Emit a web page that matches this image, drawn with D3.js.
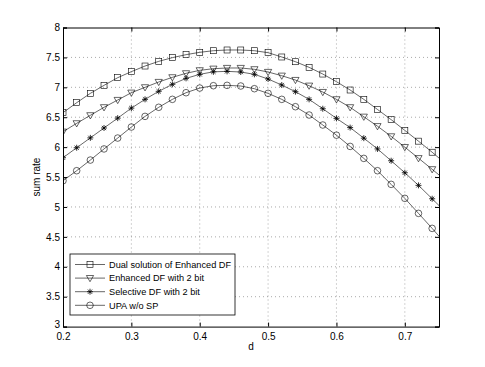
<!DOCTYPE html>
<html>
<head>
<meta charset="utf-8">
<script src="https://cdn.jsdelivr.net/npm/d3@7"></script>
<style>
	body { margin: 0; background: #fff; }
	text { font-family: "Liberation Sans", Arial, Helvetica, sans-serif; font-size: 10px; fill: #000; }
</style>
</head>
<body>
<svg id="chart"></svg>
<script>
// d values (last point lies past the axis and gets clipped)
let dValues = [0.20, 0.22, 0.24, 0.26, 0.28, 0.30, 0.32, 0.34, 0.36, 0.38,
	0.40, 0.42, 0.44, 0.46, 0.48, 0.50, 0.52, 0.54, 0.56, 0.58,
	0.60, 0.62, 0.64, 0.66, 0.68, 0.70, 0.72, 0.74, 0.76];

let dualRate = [6.576, 6.743, 6.899, 7.033, 7.161, 7.262, 7.356, 7.434, 7.496, 7.546,
	7.585, 7.612, 7.624, 7.624, 7.612, 7.579, 7.507, 7.428, 7.334, 7.222,
	7.094, 6.955, 6.799, 6.63, 6.46, 6.28, 6.10, 5.915, 5.72];

let enhancedRate = [6.258, 6.398, 6.532, 6.666, 6.788, 6.910, 7.0, 7.089, 7.167, 7.234,
	7.284, 7.311, 7.323, 7.323, 7.301, 7.256, 7.194, 7.122, 7.027, 6.921,
	6.799, 6.666, 6.508, 6.35, 6.18, 6.0, 5.815, 5.63, 5.44];

let selectiveRate = [5.823, 5.99, 6.155, 6.32, 6.485, 6.652, 6.799, 6.933, 7.05, 7.15,
	7.217, 7.259, 7.267, 7.256, 7.217, 7.139, 7.038, 6.927, 6.799, 6.642,
	6.481, 6.327, 6.15, 5.97, 5.773, 5.572, 5.361, 5.137, 4.91];

let upaRate = [5.438, 5.606, 5.784, 5.97, 6.152, 6.336, 6.514, 6.666, 6.799, 6.91,
	6.988, 7.027, 7.033, 7.022, 6.977, 6.899, 6.799, 6.676, 6.537, 6.370,
	6.2, 6.012, 5.812, 5.606, 5.378, 5.144, 4.893, 4.642, 4.38];

let seriesNames = ['Dual solution of Enhanced DF', 'Enhanced DF with 2 bit', 'Selective DF with 2 bit', 'UPA w/o SP'];
let seriesMarkers = ['square', 'triangle', 'star', 'circle'];

let xTicks = [0.2, 0.3, 0.4, 0.5, 0.6, 0.7];
let yTicks = [3, 3.5, 4, 4.5, 5, 5.5, 6, 6.5, 7, 7.5, 8];

let width = 485, height = 367;
let plotLeft = 63, plotRight = 439, plotTop = 27.5, plotBottom = 326.6;

let svg = d3.select('#chart')
	.attr('width', width)
	.attr('height', height);

let xScale = d3.scaleLinear().domain([0.2, 0.75]).range([plotLeft, plotRight]);
let yScale = d3.scaleLinear().domain([3, 8]).range([plotBottom, plotTop]);

// dotted grid
svg.append('g').selectAll('line')
	.data(xTicks.slice(1))
	.enter().append('line')
	.attr('x1', d => xScale(d)).attr('x2', d => xScale(d))
	.attr('y1', plotTop).attr('y2', plotBottom)
	.attr('stroke', '#555').attr('stroke-width', 0.5)
	.attr('stroke-dasharray', '1,3');

svg.append('g').selectAll('line')
	.data(yTicks.slice(1, -1))
	.enter().append('line')
	.attr('x1', plotLeft).attr('x2', plotRight)
	.attr('y1', d => yScale(d)).attr('y2', d => yScale(d))
	.attr('stroke', '#555').attr('stroke-width', 0.5)
	.attr('stroke-dasharray', '1,3');

// axes, ticks pointing inwards on all four sides
let xAxis = d3.axisBottom(xScale).tickValues(xTicks).tickSize(-4).tickPadding(6).tickFormat(d3.format('.1f'));
let xAxisTop = d3.axisTop(xScale).tickValues(xTicks).tickSize(-4).tickFormat('');
let yAxis = d3.axisLeft(yScale).tickValues(yTicks).tickSize(-4).tickPadding(3).tickFormat(d => d);
let yAxisRight = d3.axisRight(yScale).tickValues(yTicks).tickSize(-4).tickFormat('');

svg.append('g').attr('transform', `translate(0,${plotBottom})`).call(xAxis);
svg.append('g').attr('transform', `translate(0,${plotTop})`).call(xAxisTop);
let yAxisGroup = svg.append('g').attr('transform', `translate(${plotLeft},0)`).call(yAxis);
svg.append('g').attr('transform', `translate(${plotRight},0)`).call(yAxisRight);

// the lowest y label sits a bit higher, clear of the 0.2 label
yAxisGroup.selectAll('.tick text').filter(d => d == 3).attr('dy', '0.1em');

svg.selectAll('.domain').attr('stroke', '#000').attr('stroke-width', 1);
svg.selectAll('.tick line').attr('stroke', '#000');
svg.selectAll('.tick text').style('font-size', '10px');

// labels
svg.append('text')
	.attr('x', (plotLeft + plotRight) / 2)
	.attr('y', 350)
	.style('text-anchor', 'middle')
	.text('d');

svg.append('text')
	.attr('transform', 'rotate(-90)')
	.attr('x', -(plotTop + plotBottom) / 2)
	.attr('y', 40)
	.style('text-anchor', 'middle')
	.text('sum rate');

// marker drawing
function drawMarker(g, type, x, y) {
	if (type == 'square') {
		g.append('rect')
			.attr('x', x - 3).attr('y', y - 3)
			.attr('width', 6).attr('height', 6)
			.attr('fill', 'none').attr('stroke', '#000').attr('stroke-width', 0.6);
	} else if (type == 'triangle') {
		g.append('path')
			.attr('d', `M${x - 3.6},${y - 2.6}L${x + 3.6},${y - 2.6}L${x},${y + 3.6}Z`)
			.attr('fill', 'none').attr('stroke', '#000').attr('stroke-width', 0.6);
	} else if (type == 'circle') {
		g.append('circle')
			.attr('cx', x).attr('cy', y).attr('r', 3.3)
			.attr('fill', 'none').attr('stroke', '#000').attr('stroke-width', 0.6);
	} else {
		let r = 3;
		let p = '';
		for (let k = 0; k < 4; k++) {
			let a = k * Math.PI / 4;
			p += `M${x - r * Math.cos(a)},${y - r * Math.sin(a)}L${x + r * Math.cos(a)},${y + r * Math.sin(a)}`;
		}
		g.append('path').attr('d', p).attr('stroke', '#000').attr('stroke-width', 0.8);
	}
}

svg.append('clipPath').attr('id', 'plotclip')
	.append('rect')
	.attr('x', plotLeft).attr('y', plotTop)
	.attr('width', plotRight - plotLeft).attr('height', plotBottom - plotTop);

let plot = svg.append('g').attr('clip-path', 'url(#plotclip)');

let allSeries = [dualRate, enhancedRate, selectiveRate, upaRate];
let line = d3.line()
	.x((d, i) => xScale(dValues[i]))
	.y(d => yScale(d));

for (let s = 0; s < allSeries.length; s++) {
	plot.append('path')
		.datum(allSeries[s])
		.attr('d', line)
		.attr('fill', 'none')
		.attr('stroke', '#000')
		.attr('stroke-width', 0.6);
	for (let i = 0; i < dValues.length; i++) {
		drawMarker(plot, seriesMarkers[s], xScale(dValues[i]), yScale(allSeries[s][i]));
	}
}

// legend
let legend = svg.append('g');
legend.append('rect')
	.attr('x', 70).attr('y', 254)
	.attr('width', 165).attr('height', 61)
	.attr('fill', '#fff').attr('stroke', '#000').attr('stroke-width', 0.8);

for (let s = 0; s < seriesNames.length; s++) {
	let ly = 264.5 + s * 13.6;
	legend.append('line')
		.attr('x1', 75).attr('x2', 105)
		.attr('y1', ly).attr('y2', ly)
		.attr('stroke', '#000').attr('stroke-width', 0.6);
	drawMarker(legend, seriesMarkers[s], 90, ly);
	legend.append('text')
		.attr('x', 109)
		.attr('y', ly + 3.3)
		.style('font-size', '9.2px')
		.text(seriesNames[s]);
}
</script>
</body>
</html>
